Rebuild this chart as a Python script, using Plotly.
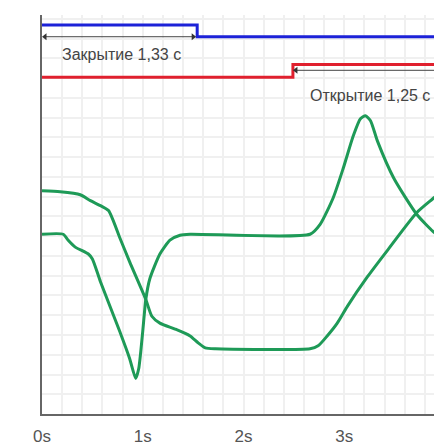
import plotly.graph_objects as go

# Time axis (s) and signal values (arbitrary units)
curve_a_t = [0, 0.18, 0.38, 0.48, 0.58, 0.66, 0.77, 0.87, 1.03, 1.09, 1.17, 1.32, 1.47, 1.55, 1.62, 1.72,
             2.66, 2.74, 2.83, 2.93, 3.03, 3.23, 3.43, 3.72, 3.89, 3.95]
curve_a_y = [226, 225, 222, 216, 211, 206, 179, 154, 116, 99, 92, 86, 79, 72, 67, 66,
             66, 69, 79, 92, 109, 139, 166, 204, 219, 225]

curve_b_t = [0, 0.21, 0.26, 0.33, 0.46, 0.50, 0.58, 0.77, 0.87, 0.93, 0.96, 1.00, 1.03, 1.07, 1.17,
             1.27, 1.37, 1.47, 2.66, 2.76, 2.89, 2.99, 3.09, 3.16, 3.21, 3.26, 3.33, 3.49, 3.72, 3.89, 3.95]
curve_b_y = [182, 182, 176, 169, 162, 157, 134, 84, 56, 36, 46, 84, 116, 137, 162,
             176, 181, 182, 182, 192, 219, 249, 282, 299, 302, 297, 276, 239, 202, 184, 180]

close_t = [0, 1.54, 1.54, 3.95]
close_y = [394, 394, 382, 382]
open_t = [0, 2.49, 2.49, 3.95]
open_y = [341, 341, 354, 354]

close_arrow_t = [0.03, 1.50]
close_arrow_y = [382, 382]
open_arrow_t = [2.52, 3.95]
open_arrow_y = [348, 348]

tick_vals = [0, 1, 2, 3, 4]
tick_text = ["0s", "1s", "2s", "3s", "4s"]

label_close = "Закрытие 1,33 с"
label_open = "Открытие 1,25 с"

green = "#1e9a57"
grid = "#f0f0f0"

fig = go.Figure()
fig.add_trace(go.Scatter(x=curve_a_t, y=curve_a_y, mode="lines",
                         line=dict(color=green, width=3, shape="spline", smoothing=0.6)))
fig.add_trace(go.Scatter(x=curve_b_t, y=curve_b_y, mode="lines",
                         line=dict(color=green, width=3, shape="spline", smoothing=0.6)))
fig.add_trace(go.Scatter(x=close_t, y=close_y, mode="lines",
                         line=dict(color="#1c22d8", width=3)))
fig.add_trace(go.Scatter(x=open_t, y=open_y, mode="lines",
                         line=dict(color="#e0202e", width=3)))
fig.add_trace(go.Scatter(x=close_arrow_t, y=close_arrow_y, mode="lines+markers",
                         line=dict(color="#444444", width=1),
                         marker=dict(symbol=["triangle-left", "triangle-right"], size=6, color="#333333")))
fig.add_trace(go.Scatter(x=open_arrow_t, y=open_arrow_y, mode="lines+markers",
                         line=dict(color="#444444", width=1),
                         marker=dict(symbol=["triangle-left", "triangle-right"], size=6, color="#333333")))

fig.add_annotation(x=0.79, y=364, text=label_close, showarrow=False,
                   font=dict(family="Liberation Sans, Arial", size=16, color="#444444"))
fig.add_annotation(x=3.25, y=322, text=label_open, showarrow=False,
                   font=dict(family="Liberation Sans, Arial", size=16, color="#444444"))

fig.update_layout(
    width=434, height=446,
    margin=dict(l=42, r=0, t=15, b=27),
    paper_bgcolor="white", plot_bgcolor="white",
    showlegend=False,
    xaxis=dict(range=[0, 3.89], tickvals=tick_vals, ticktext=tick_text,
               showgrid=True, gridcolor=grid, gridwidth=2,
               minor=dict(dtick=0.2, showgrid=True, gridcolor=grid, gridwidth=2),
               showline=True, linecolor="#666666", linewidth=2,
               zeroline=False, ticks="", ticklabelstandoff=6,
               tickfont=dict(family="Liberation Sans, Arial", size=17, color="#555555")),
    yaxis=dict(range=[0, 404], dtick=20, showticklabels=False,
               showgrid=True, gridcolor=grid, gridwidth=2,
               showline=True, linecolor="#666666", linewidth=2,
               zeroline=False, ticks=""),
)

fig.write_html("out.html", config={"displayModeBar": False},
               post_script="document.body.style.margin='0';document.body.style.overflow='hidden';")
